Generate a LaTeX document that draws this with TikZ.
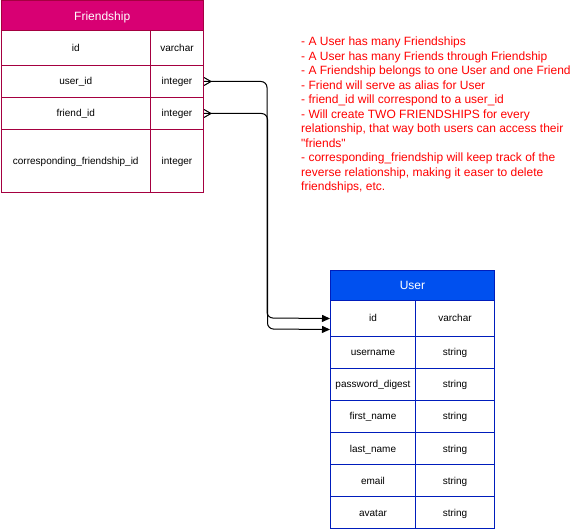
\documentclass[tikz,border=0pt]{standalone}
\usepackage{fontspec}
\setmainfont{Liberation Sans}[Ligatures=TeXOff]
\usetikzlibrary{arrows.meta}
\definecolor{fsfill}{HTML}{D80073}
\definecolor{fsline}{HTML}{A50040}
\definecolor{usfill}{HTML}{0050EF}
\definecolor{usline}{HTML}{001DBC}
\definecolor{notecol}{HTML}{FF0000}
\begin{document}
\begin{tikzpicture}[x=1pt,y=-1pt,
  cell/.style={draw, rectangle, anchor=north west, inner sep=0pt, line width=1pt, text height=8pt, text depth=1pt, font=\fontsize{10}{12}\selectfont},
  fcell/.style={cell, draw=fsline},
  ucell/.style={cell, draw=usline},
  fhead/.style={cell, draw=fsline, fill=fsfill, text=white, text height=9.8pt, text depth=1pt, font=\fontsize{12}{14}\selectfont},
  uhead/.style={cell, draw=usline, fill=usfill, text=white, text height=9.8pt, text depth=1pt, font=\fontsize{12}{14}\selectfont},
  conn/.style={draw=black, line width=1pt, rounded corners=6pt},
  crow/.style={draw=black, line width=1pt},
  notetext/.style={anchor=north west, inner sep=0pt, align=left, text=notecol, font=\fontsize{12}{14.5}\selectfont}
]
\useasboundingbox (0,0) rectangle (584,529);
% Friendship table
\node[fhead, minimum width=202.5pt, minimum height=29.5pt] (fhead) at (0.5,0.5) {Friendship};
\node[fcell, minimum width=149.5pt, minimum height=35pt] (fid) at (0.5,30) {id};
\node[fcell, minimum width=53pt, minimum height=35pt] (fidt) at (150,30) {varchar};
\node[fcell, minimum width=149.5pt, minimum height=32pt] (fuser) at (0.5,65) {user\_id};
\node[fcell, minimum width=53pt, minimum height=32pt] (fusert) at (150,65) {integer};
\node[fcell, minimum width=149.5pt, minimum height=32pt] (ffriend) at (0.5,97) {friend\_id};
\node[fcell, minimum width=53pt, minimum height=32pt] (ffriendt) at (150,97) {integer};
\node[fcell, minimum width=149.5pt, minimum height=63pt] (fcorr) at (0.5,129) {corresponding\_friendship\_id};
\node[fcell, minimum width=53pt, minimum height=63pt] (fcorrt) at (150,129) {integer};
% User table
\node[uhead, minimum width=164pt, minimum height=30pt] (uhead) at (330,270) {User};
\node[ucell, minimum width=85pt, minimum height=36pt] (uid) at (330,300) {id};
\node[ucell, minimum width=79pt, minimum height=36pt] (uidt) at (415,300) {varchar};
\node[ucell, minimum width=85pt, minimum height=32pt] (uname) at (330,336) {username};
\node[ucell, minimum width=79pt, minimum height=32pt] (unamet) at (415,336) {string};
\node[ucell, minimum width=85pt, minimum height=32pt] (upass) at (330,368) {password\_digest};
\node[ucell, minimum width=79pt, minimum height=32pt] (upasst) at (415,368) {string};
\node[ucell, minimum width=85pt, minimum height=32pt] (ufirst) at (330,400) {first\_name};
\node[ucell, minimum width=79pt, minimum height=32pt] (ufirstt) at (415,400) {string};
\node[ucell, minimum width=85pt, minimum height=32pt] (ulast) at (330,432) {last\_name};
\node[ucell, minimum width=79pt, minimum height=32pt] (ulastt) at (415,432) {string};
\node[ucell, minimum width=85pt, minimum height=32pt] (uemail) at (330,464) {email};
\node[ucell, minimum width=79pt, minimum height=32pt] (uemailt) at (415,464) {string};
\node[ucell, minimum width=85pt, minimum height=32pt] (uavatar) at (330,496) {avatar};
\node[ucell, minimum width=79pt, minimum height=32pt] (uavatart) at (415,496) {string};
% Notes
\node[notetext] (notes) at (301,37) {- A User has many Friendships\\
- A User has many Friends through Friendship\\
- A Friendship belongs to one User and one Friend\\
- Friend will serve as alias for User\\
- friend\_id will correspond to a user\_id\\
- Will create TWO FRIENDSHIPS for every\\
relationship, that way both users can access their\\
"friends"\\
- corresponding\_friendship will keep track of the\\
reverse relationship, making it easer to delete\\
friendships, etc.};
% Connectors
\coordinate (c1) at (267,318);
\coordinate (c2) at (267.5,329);
\draw[conn, -{Triangle[length=8pt,width=7pt]}] (fusert.east) -| (c1) -- (uid.west);
\draw[conn, -{Triangle[length=8pt,width=7pt]}] (ffriendt.east) -| (c2) -- ([yshift=-11pt]uid.west);
% crow's feet
\draw[crow] ([yshift=4pt]fusert.east) -- ([xshift=7pt]fusert.east) -- ([yshift=-4pt]fusert.east);
\draw[crow] ([yshift=4pt]ffriendt.east) -- ([xshift=7pt]ffriendt.east) -- ([yshift=-4pt]ffriendt.east);
\end{tikzpicture}
\end{document}
